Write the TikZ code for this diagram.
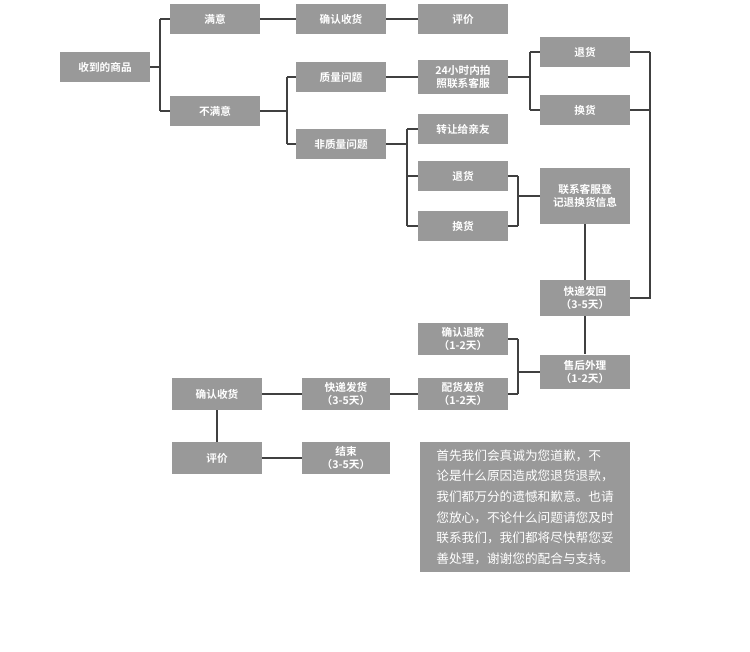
\documentclass[tikz,border=0pt]{standalone}
\usepackage{fontspec}
\newfontfamily\cjk{Noto Sans CJK SC}[BoldFont={Noto Sans CJK SC Bold}]
\begin{document}
\begin{tikzpicture}[x=0.75pt,y=-0.75pt,
  box/.style={fill=black!40,text=white,font=\cjk\bfseries\fontsize{8}{10}\selectfont,align=center,minimum width=67.5pt,minimum height=23pt,inner sep=1pt},
  ln/.style={draw=black!75,line width=0.8pt}]
\useasboundingbox (0,0) rectangle (750,651);
\node[box] (a) at (105,67) {收到的商品};
\node[box] (my) at (215,19) {满意};
\node[box] (qr1) at (341,19) {确认收货};
\node[box] (pj1) at (463,19) {评价};
\node[box] (bmy) at (215,111) {不满意};
\node[box] (zl) at (341,77) {质量问题};
\node[box,minimum height=25.5pt] (kf) at (463,77) {24小时内拍\\照联系客服};
\node[box] (th1) at (585,52) {退货};
\node[box] (hh1) at (585,110) {换货};
\node[box] (fzl) at (341,144) {非质量问题};
\node[box] (zr) at (463,129) {转让给亲友};
\node[box] (th2) at (463,176) {退货};
\node[box] (hh2) at (463,226) {换货};
\node[box,minimum height=42pt] (dj) at (585,196) {联系客服登\\记退换货信息};
\node[box,minimum height=27pt] (kdfh) at (585,298) {快递发回\\（3-5天）};
\node[box,minimum height=24pt] (qrtk) at (463,339) {确认退款\\（1-2天）};
\node[box,minimum height=26pt] (sh) at (585,372) {售后外理\\（1-2天）};
\node[box,minimum height=24pt] (ph) at (463,394) {配货发货\\（1-2天）};
\node[box,minimum height=24pt,minimum width=66pt] (kdfhuo) at (346,394) {快递发货\\（3-5天）};
\node[box,minimum height=24pt] (qr2) at (217,394) {确认收货};
\node[box,minimum height=24pt] (pj2) at (217,458) {评价};
\node[box,minimum height=24pt,minimum width=66pt] (js) at (346,458) {结束\\（3-5天）};
\node[fill=black!40,text=white,font=\cjk\fontsize{9.5}{15.5}\selectfont,align=left,minimum width=157.5pt,minimum height=97.5pt,inner sep=4pt] (txt) at (525,507) {首先我们会真诚为您道歉，不\\论是什么原因造成您退货退款，\\我们都万分的遗憾和歉意。也请\\您放心，不论什么问题请您及时\\联系我们，我们都将尽快帮您妥\\善处理，谢谢您的配合与支持。};
\draw[ln] (a.east) -- (160,67) (160,19) -- (160,111) (160,19) -- (my.west) (160,111) -- (bmy.west);
\draw[ln] (my) -- (qr1) (qr1) -- (pj1);
\draw[ln] (bmy.east) -- (287,111) (287,77) -- (287,144) (287,77) -- (zl.west) (287,144) -- (fzl.west);
\draw[ln] (zl) -- (kf);
\draw[ln] (kf.east) -- (530,77) (530,52) -- (530,110) (530,52) -- (th1.west) (530,110) -- (hh1.west);
\draw[ln] (th1.east) -- (650,52) (hh1.east) -- (650,110) (650,52) -- (650,298) -- (kdfh.east);
\draw[ln] (fzl.east) -- (407,144) (407,129) -- (407,226) (407,129) -- (zr.west) (407,176) -- (th2.west) (407,226) -- (hh2.west);
\draw[ln] (th2.east) -- (518,176) (hh2.east) -- (518,226) (518,176) -- (518,226) (518,196) -- (dj.west);
\draw[ln] (dj) -- (kdfh) (kdfh) -- (sh);
\draw[ln] (sh.west) -- (518,372) (518,339) -- (518,394) (518,339) -- (qrtk.east) (518,394) -- (ph.east);
\draw[ln] (ph) -- (kdfhuo) (kdfhuo) -- (qr2) (qr2) -- (pj2) (pj2) -- (js);
\end{tikzpicture}
\end{document}
